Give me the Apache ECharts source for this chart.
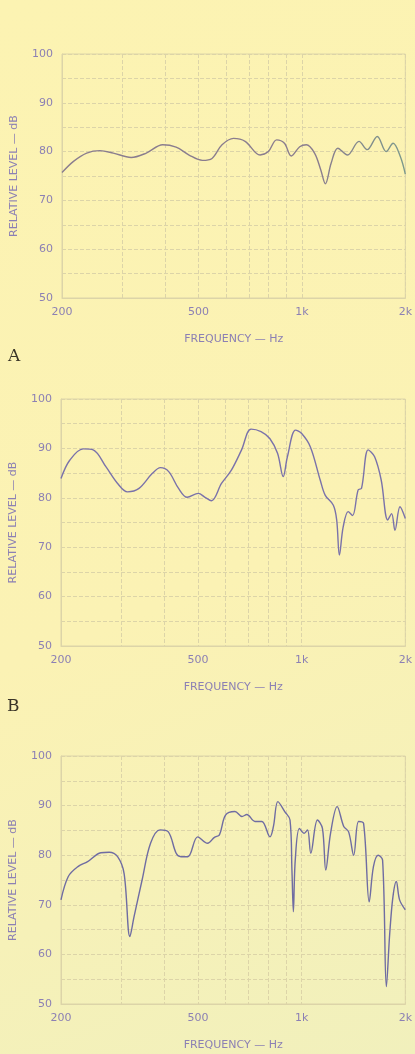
<!DOCTYPE html>
<html>
<head>
<meta charset="utf-8">
<script src="https://cdn.jsdelivr.net/npm/echarts@6/dist/echarts.min.js"></script>
<style>
  html, body { margin: 0; padding: 0; background: #fbf2b4; }
  #chart { width: 415px; height: 1054px; }
</style>
</head>
<body>
<div id="chart"></div>
<script>
// frequency (Hz) and relative level (dB)
const freqA = [200, 216, 236, 258, 282, 318, 352, 393, 430, 469, 513, 547, 585, 632, 683, 755, 798, 844, 889, 931, 985, 1030, 1088, 1134, 1170, 1216, 1272, 1357, 1466, 1549, 1657, 1759, 1843, 1934, 2000]
const levelA = [75.7, 78, 79.7, 80.2, 79.7, 78.8, 79.7, 81.4, 80.9, 79.3, 78.2, 78.6, 81.4, 82.7, 82.1, 79.3, 80.0, 82.4, 81.7, 79.1, 81.0, 81.4, 79.7, 76.3, 73.4, 77.6, 80.7, 79.3, 82.1, 80.4, 83.1, 80.0, 81.7, 79.0, 75.4]

const freqB = [200, 212, 232, 248, 270, 292, 312, 337, 368, 389, 411, 439, 465, 501, 524, 547, 585, 625, 669, 713, 762, 808, 851, 884, 909, 960, 1000, 1060, 1132, 1171, 1236, 1264, 1287, 1320, 1365, 1405, 1459, 1492, 1560, 1629, 1702, 1778, 1825, 1866, 1930, 2000]
const levelB = [83.9, 87.6, 89.9, 89.7, 86.3, 82.9, 81.2, 81.9, 84.9, 86.1, 85.3, 81.9, 80.1, 80.9, 80.1, 79.4, 82.9, 85.6, 89.7, 93.9, 93.4, 92.0, 89.0, 84.3, 88.3, 93.7, 93.0, 90.3, 83.6, 80.5, 78.5, 75.5, 68.4, 74.1, 77.2, 76.4, 81.6, 81.9, 89.7, 88.3, 83.6, 75.5, 76.8, 73.4, 78.2, 75.8]

const freqC = [200, 210, 224, 239, 261, 276, 292, 305, 317, 326, 344, 364, 388, 410, 432, 446, 467, 499, 533, 558, 577, 601, 640, 671, 693, 732, 766, 809, 828, 853, 893, 925, 937, 946, 958, 985, 1017, 1040, 1063, 1111, 1149, 1175, 1213, 1268, 1325, 1369, 1416, 1463, 1513, 1571, 1616, 1667, 1718, 1762, 1802, 1841, 1883, 1925, 2000]
const levelC = [71.0, 75.7, 77.7, 78.7, 80.5, 80.6, 79.7, 76.3, 63.6, 67.6, 75.0, 82.4, 85.1, 84.7, 80.4, 79.7, 79.7, 83.7, 82.4, 83.6, 84.1, 88.1, 88.8, 87.8, 88.2, 86.8, 86.8, 83.7, 85.8, 90.8, 88.8, 87.1, 77.0, 68.6, 79.0, 85.4, 84.4, 85.1, 80.4, 87.1, 85.4, 77.0, 84.4, 89.8, 85.8, 84.7, 80.0, 86.8, 86.4, 70.6, 77.7, 80.0, 79.0, 53.5, 64.2, 71.6, 74.7, 71.0, 69.0]

const gridTicks = [200, 300, 400, 500, 600, 700, 800, 900, 1000, 2000]
const freqLabels = [200, 500, 1000, 2000]

const panelLabels = ['A', 'B']

const textColor = '#8c80b4'
const gridColor = '#dcd4a8'

function zip (xs, ys) {
    return xs.map((x, i) => [x, ys[i]])
}

const grids = [
    { left: 62, right: 7, top: 54, height: 244 },
    { left: 61, right: 6, top: 399, height: 247 },
    { left: 59, right: 6, top: 756, height: 248 }
]

const xAxes = grids.map((g, i) => ({
    type: 'log',
    gridIndex: i,
    min: 200,
    max: 2000,
    name: 'FREQUENCY — Hz',
    nameLocation: 'middle',
    nameGap: 36,
    nameTextStyle: { color: textColor, fontSize: 11, fontFamily: 'DejaVu Sans' },
    axisLine: { show: true, lineStyle: { color: gridColor, width: 1 } },
    axisTick: { show: false, customValues: gridTicks },
    axisLabel: {
        customValues: freqLabels,
        color: textColor,
        fontSize: 11,
        fontFamily: 'DejaVu Sans',
        margin: 9,
        formatter: function (v) {
            if (v >= 1000) return (v / 1000) + 'k'
            return String(v)
        }
    },
    splitLine: { show: true, lineStyle: { color: gridColor, type: 'dashed', width: 1 } }
}))

const yAxes = grids.map((g, i) => ({
    type: 'value',
    gridIndex: i,
    min: 50,
    max: 100,
    interval: 10,
    name: 'RELATIVE LEVEL — dB',
    nameLocation: 'middle',
    nameGap: 42,
    nameTextStyle: { color: textColor, fontSize: 11, fontFamily: 'DejaVu Sans' },
    axisLine: { show: true, lineStyle: { color: gridColor, width: 1 } },
    axisTick: { show: false },
    minorTick: { show: false, splitNumber: 2 },
    minorSplitLine: { show: true, lineStyle: { color: gridColor, type: 'dashed', width: 1 } },
    axisLabel: { color: textColor, fontSize: 11, fontFamily: 'DejaVu Sans', margin: 9 },
    splitLine: { show: true, lineStyle: { color: gridColor, type: 'dashed', width: 1 } }
}))

const lineA = {
    type: 'linear', x: 0, y: 0, x2: 1, y2: 0,
    colorStops: [
        { offset: 0, color: '#8a7d8e' },
        { offset: 0.75, color: '#8a7d8e' },
        { offset: 1, color: '#7c9a8c' }
    ]
}

const series = [
    { data: zip(freqA, levelA), color: lineA },
    { data: zip(freqB, levelB), color: '#7a72aa' },
    { data: zip(freqC, levelC), color: '#6f6ca2' }
].map((s, i) => ({
    type: 'line',
    xAxisIndex: i,
    yAxisIndex: i,
    data: s.data,
    smooth: 0.35,
    showSymbol: false,
    silent: true,
    lineStyle: { color: s.color, width: 1.4 }
}))

const chart = echarts.init(document.getElementById('chart'), null, { renderer: 'canvas' })
chart.setOption({
    backgroundColor: {
        type: 'linear', x: 0, y: 0, x2: 1, y2: 1,
        colorStops: [
            { offset: 0, color: '#fcf3b2' },
            { offset: 0.55, color: '#fbf2b4' },
            { offset: 1, color: '#f1f0bc' }
        ]
    },
    animation: false,
    grid: grids.map(g => Object.assign({ show: true, borderColor: gridColor, borderWidth: 1, backgroundColor: 'transparent' }, g)),
    xAxis: xAxes,
    yAxis: yAxes,
    series: series,
    graphic: [
        { type: 'text', left: 8, top: 348, style: { text: panelLabels[0], fontSize: 17, fontFamily: 'DejaVu Serif', fill: '#3a3528' } },
        { type: 'text', left: 7, top: 698, style: { text: panelLabels[1], fontSize: 17, fontFamily: 'DejaVu Serif', fill: '#3a3528' } }
    ]
})
</script>
</body>
</html>
